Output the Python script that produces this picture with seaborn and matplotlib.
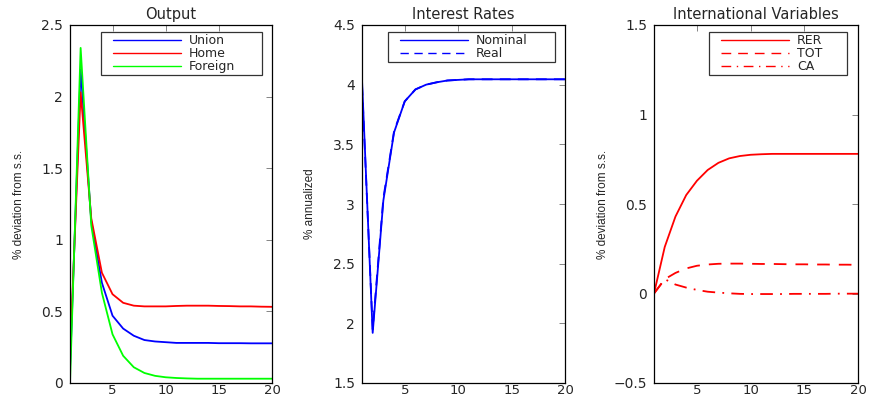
import numpy as np
import pandas as pd
import matplotlib
matplotlib.use("Agg")
import matplotlib.pyplot as plt
from matplotlib.lines import Line2D
from matplotlib.legend_handler import HandlerLine2D
import seaborn as sns

periods = list(range(1, 21))

# Output (% deviation from s.s.)
union = [0.10, 2.19, 1.13, 0.70, 0.47, 0.38, 0.33, 0.30, 0.29, 0.285, 0.28, 0.28, 0.28, 0.28, 0.278, 0.278, 0.278, 0.277, 0.277, 0.277]
home = [0.20, 2.03, 1.15, 0.77, 0.62, 0.56, 0.54, 0.535, 0.535, 0.535, 0.538, 0.54, 0.54, 0.54, 0.538, 0.537, 0.535, 0.535, 0.533, 0.532]
foreign = [0.00, 2.34, 1.10, 0.63, 0.34, 0.19, 0.11, 0.07, 0.05, 0.04, 0.035, 0.032, 0.03, 0.03, 0.03, 0.03, 0.03, 0.03, 0.03, 0.03]

# Interest rates (% annualized)
nominal = [4.04, 1.92, 3.03, 3.60, 3.86, 3.96, 4.00, 4.02, 4.035, 4.04, 4.045, 4.045, 4.045, 4.045, 4.045, 4.045, 4.045, 4.045, 4.045, 4.045]
real = [4.00, 1.95, 3.05, 3.61, 3.86, 3.96, 4.00, 4.02, 4.035, 4.04, 4.045, 4.045, 4.045, 4.045, 4.045, 4.045, 4.045, 4.045, 4.045, 4.045]

# International variables (% deviation from s.s.)
rer = [0.00, 0.26, 0.43, 0.55, 0.63, 0.69, 0.73, 0.755, 0.768, 0.775, 0.778, 0.78, 0.78, 0.78, 0.78, 0.78, 0.78, 0.78, 0.78, 0.78]
tot = [0.00, 0.08, 0.115, 0.14, 0.155, 0.162, 0.166, 0.167, 0.167, 0.166, 0.165, 0.165, 0.164, 0.163, 0.163, 0.162, 0.162, 0.161, 0.161, 0.16]
ca = [0.00, 0.08, 0.05, 0.033, 0.02, 0.01, 0.005, 0.001, -0.002, -0.003, -0.003, -0.003, -0.003, -0.002, -0.002, -0.002, -0.002, -0.001, -0.001, -0.001]

sns.set_style("white")
plt.rcParams["font.family"] = ["DejaVu Sans"]

fig = plt.figure(figsize=(8.69, 3.98), dpi=100)
W, H = 869, 398
AX_T, AX_B = 25, 383

def mkax(l, r, t=AX_T, b=AX_B):
    return fig.add_axes([l / W, 1 - b / H, (r - l) / W, (b - t) / H])

ax1 = mkax(70, 272)
ax2 = mkax(362, 565)
ax3 = mkax(654, 858)

def style(ax, ylim, yticks, yticklabels, title, ylabel, labx):
    ax.set_xlim(1, 20)
    ax.set_ylim(*ylim)
    ax.set_xticks([5, 10, 15, 20])
    ax.set_xticklabels(["5", "10", "15", "20"])
    ax.set_yticks(yticks)
    ax.set_yticklabels(yticklabels)
    ax.tick_params(axis="both", which="both", direction="in", top=True, right=True,
                   length=4, width=0.6, color="#707070", labelsize=10)
    ax.tick_params(axis="x", pad=1, labelsize=9.5)
    ax.tick_params(axis="y", pad=5)
    for s in ax.spines.values():
        s.set_visible(True)
        s.set_color("black")
        s.set_linewidth(0.9)
    ax.set_title(title, fontsize=10.5, pad=4)
    ax.set_ylabel(ylabel, fontsize=8.5, family=["Liberation Sans", "DejaVu Sans"])
    ax.yaxis.set_label_coords(labx, 0.5)
    ax.set_xlabel("")

FS = 9
BP = 0.15

def leg(ax, ax_left, ax_right, box_left, box_right, box_top):
    wpx = ax_right - ax_left
    hpx = AX_B - AX_T
    x0 = (box_left - ax_left) / wpx
    x1 = (box_right - ax_left) / wpx
    ytop = 1 - (box_top - AX_T) / hpx
    fspx = FS * 100 / 72
    xpad = (12 - BP * fspx) / fspx
    hl = (12 - BP * fspx + 68) / fspx
    lg = ax.legend(loc="upper right", bbox_to_anchor=(x0, ytop - 0.3, x1 - x0, 0.3),
                   mode="expand", fontsize=FS, handlelength=hl, frameon=True,
                   fancybox=False, edgecolor="black", borderpad=BP,
                   labelspacing=0.0, handletextpad=8 / fspx, borderaxespad=0,
                   handler_map={Line2D: HandlerLine2D(xpad=xpad)})
    lg.get_frame().set_linewidth(0.9)
    for l in lg.get_lines():
        l.set_linewidth(1.0)

lw = 1.3

df1 = pd.DataFrame({"t": periods, "Union": union, "Home": home, "Foreign": foreign})
sns.lineplot(data=df1, x="t", y="Union", ax=ax1, color=(0, 0, 1), lw=lw, label="Union")
sns.lineplot(data=df1, x="t", y="Home", ax=ax1, color=(1, 0, 0), lw=lw, label="Home")
sns.lineplot(data=df1, x="t", y="Foreign", ax=ax1, color=(0, 1, 0), lw=lw, label="Foreign")
style(ax1, (0, 2.5), [0, 0.5, 1, 1.5, 2, 2.5], ["0", "0.5", "1", "1.5", "2", "2.5"],
      "Output", "% deviation from s.s.", (25 - 70) / 202)
leg(ax1, 70, 272, 101, 262, 32)

df2 = pd.DataFrame({"t": periods, "Nominal": nominal, "Real": real})
sns.lineplot(data=df2, x="t", y="Nominal", ax=ax2, color=(0, 0, 1), lw=lw, label="Nominal")
sns.lineplot(data=df2, x="t", y="Real", ax=ax2, color=(0, 0, 1), lw=lw, label="Real",
             linestyle=(0, (6, 4)))
style(ax2, (1.5, 4.5), [1.5, 2, 2.5, 3, 3.5, 4, 4.5],
      ["1.5", "2", "2.5", "3", "3.5", "4", "4.5"], "Interest Rates", "% annualized",
      (316 - 362) / 203)
leg(ax2, 362, 565, 388, 555, 32)

df3 = pd.DataFrame({"t": periods, "RER": rer, "TOT": tot, "CA": ca})
sns.lineplot(data=df3, x="t", y="RER", ax=ax3, color=(1, 0, 0), lw=lw, label="RER")
sns.lineplot(data=df3, x="t", y="TOT", ax=ax3, color=(1, 0, 0), lw=lw, label="TOT",
             linestyle=(0, (7, 5)))
sns.lineplot(data=df3, x="t", y="CA", ax=ax3, color=(1, 0, 0), lw=lw, label="CA",
             linestyle=(0, (7, 4, 1, 4)))
style(ax3, (-0.5, 1.5), [-0.5, 0, 0.5, 1, 1.5], ["\u22120.5", "0", "0.5", "1", "1.5"],
      "International Variables", "% deviation from s.s.", (609 - 654) / 204)
leg(ax3, 654, 858, 709, 847, 32)

fig.savefig("out.png", dpi=100)
